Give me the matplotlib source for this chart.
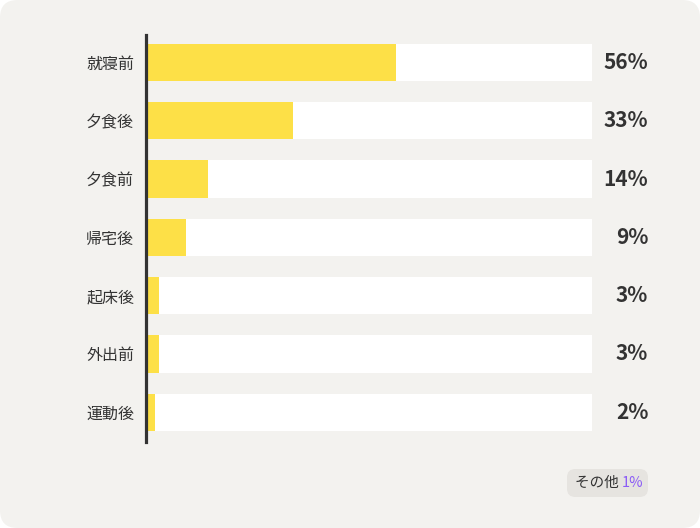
import matplotlib
matplotlib.use("Agg")
import matplotlib.pyplot as plt
from matplotlib.patches import FancyBboxPatch

plt.rcParams['font.family'] = ['Noto Sans CJK JP', 'DejaVu Sans']

# data
categories = ["就寝前", "夕食後", "夕食前", "帰宅後", "起床後", "外出前", "運動後"]
values = [56, 33, 14, 9, 3, 3, 2]
other_label = "その他"
other_value = 1

W, H = 700, 528
fig = plt.figure(figsize=(W / 100, H / 100), dpi=100)
fig.patch.set_alpha(0)

# rounded card background
card = FancyBboxPatch((0, 0), 1, 1, boxstyle="round,pad=0,rounding_size=0.025",
                      transform=fig.transFigure, facecolor="#f3f2ef", edgecolor="none",
                      mutation_aspect=W / H, zorder=-10)
fig.add_artist(card)

ax = fig.add_axes([146 / W, 1 - 442 / H, (592 - 146) / W, (442 - 35) / H])
ax.patch.set_alpha(0)

y = list(range(len(categories)))
ax.barh(y, [100] * len(values), height=0.64, color="white", zorder=1)
ax.barh(y, values, height=0.64, color="#fde047", zorder=2)

ax.set_xlim(0, 100)
ax.set_ylim(6.51, -0.47)

for s in ["top", "right", "bottom"]:
    ax.spines[s].set_visible(False)
ax.spines["left"].set_color("#333333")
ax.spines["left"].set_linewidth(2.3)
ax.spines["left"].set_zorder(5)

ax.set_xticks([])
ax.set_yticks(y)
ax.set_yticklabels(categories, fontsize=11.5, color="#333333")
ax.tick_params(axis="y", length=0, pad=8.5)

for yi, v in zip(y, values):
    ax.text(112.6, yi, f"{v}%", ha="right", va="center", fontsize=15,
            fontweight="bold", color="#333333")

# "other" badge
badge = FancyBboxPatch((567 / W, 1 - 497 / H), 81 / W, 28 / H,
                       boxstyle="round,pad=0,rounding_size=0.012",
                       transform=fig.transFigure, facecolor="#e6e4e0", edgecolor="none",
                       mutation_aspect=W / H)
fig.add_artist(badge)
t1 = fig.text(575 / W, 1 - 483 / H, other_label + " ", ha="left", va="center",
              fontsize=10.5, color="#333333")
fig.canvas.draw()
bb = t1.get_window_extent()
fig.text(bb.x1 / W, 1 - 483 / H, f"{other_value}%", ha="left", va="center",
         fontsize=10.5, color="#8b5cf6")

fig.savefig("out.png", dpi=100)
